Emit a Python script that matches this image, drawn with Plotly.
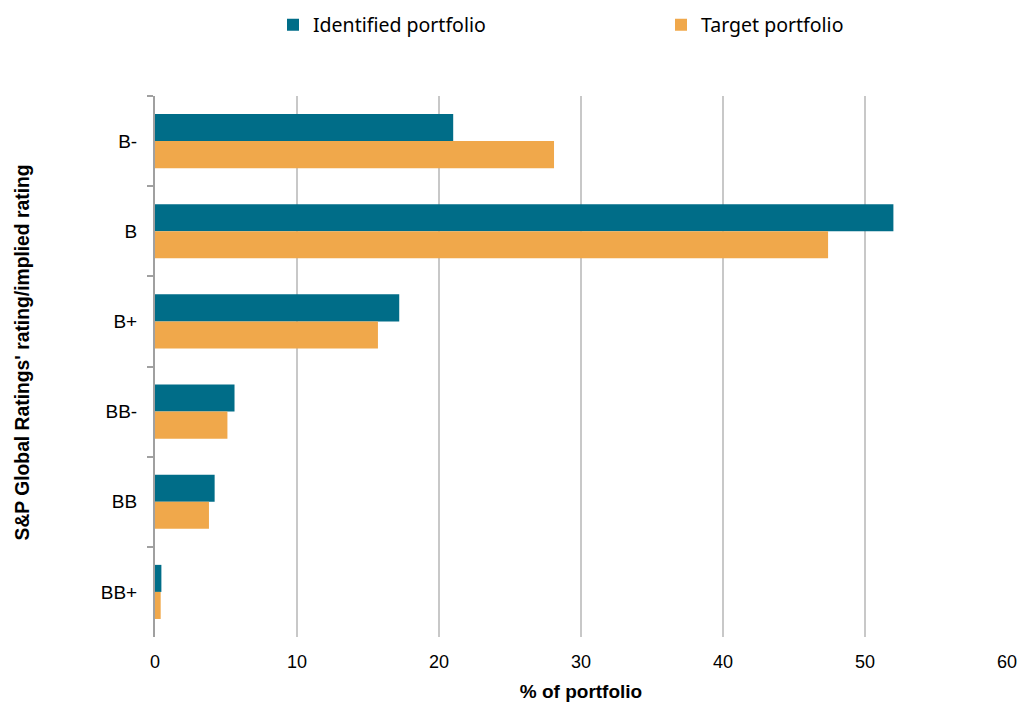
import plotly.graph_objects as go

ratings = ["B-", "B", "B+", "BB-", "BB", "BB+"]
identified = [21.0, 52.0, 17.2, 5.6, 4.2, 0.45]
target = [28.1, 47.4, 15.7, 5.1, 3.8, 0.4]
x_ticks = [0, 10, 20, 30, 40, 50, 60]

teal = "#006D88"
orange = "#F0A84B"

fig = go.Figure()
fig.add_trace(go.Bar(y=ratings, x=identified, orientation="h", name="Identified portfolio",
                     marker=dict(color=teal, line=dict(width=0)), legend="legend", showlegend=True))
fig.add_trace(go.Bar(y=ratings, x=target, orientation="h", name="Target portfolio",
                     marker=dict(color=orange, line=dict(width=0)), legend="legend2", showlegend=True))

legend_font = dict(family="Noto Sans, Inter, sans-serif", size=19.5, color="#000000")

fig.update_layout(
    width=1020, height=702,
    showlegend=True,
    margin=dict(l=155, r=13, t=96, b=65, autoexpand=False),
    plot_bgcolor="white", paper_bgcolor="white",
    barmode="group", bargap=0.4, bargroupgap=0,
    font=dict(family="Liberation Sans, Arial, sans-serif", size=19, color="#000000"),
    legend=dict(xref="container", yref="container", x=273 / 1020, xanchor="left",
                y=1 - 25 / 702, yanchor="middle", font=legend_font, itemwidth=30),
    legend2=dict(xref="container", yref="container", x=661 / 1020, xanchor="left",
                 y=1 - 25 / 702, yanchor="middle", font=legend_font, itemwidth=30),
    xaxis=dict(range=[0, 60], tickvals=x_ticks, showgrid=True, gridcolor="#C8C8C8", gridwidth=1.5,
               zeroline=False, showline=False, ticks="", ticklabelstandoff=12,
               title=dict(text="<b>% of portfolio</b>", font=dict(size=19), standoff=13),
               tickfont=dict(size=18)),
    yaxis=dict(categoryorder="array", categoryarray=ratings, autorange="reversed",
               showline=True, linecolor="#A0A0A0", linewidth=2,
               ticks="outside", tickson="boundaries", ticklen=6, tickcolor="#A0A0A0", tickwidth=2,
               showgrid=False, ticklabelstandoff=12,
               tickfont=dict(size=19)),
    annotations=[dict(text="<b>S&P Global Ratings' rating/implied rating</b>",
                      xref="paper", yref="paper", x=(22 - 155) / 852, y=0.526,
                      xanchor="center", yanchor="middle", textangle=-90, showarrow=False,
                      font=dict(size=19.3))],
)

fig.write_html("out.html")
